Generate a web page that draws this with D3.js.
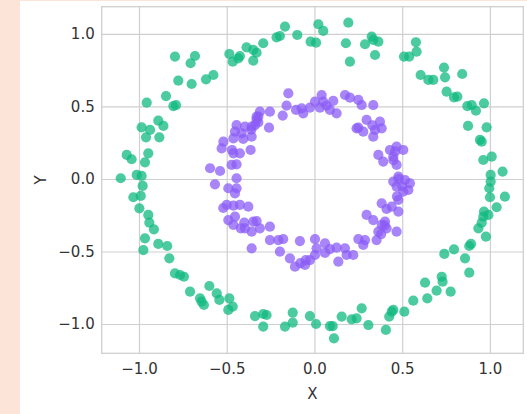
<!DOCTYPE html>
<html>
<head>
<meta charset="utf-8">
<script src="https://cdn.jsdelivr.net/npm/d3@7"></script>
<style>
  html, body { margin: 0; padding: 0; background: #fde4d8; }
  svg { display: block; }
</style>
</head>
<body>
<svg id="chart" width="527" height="414"></svg>
<script>
// Outer ring (class 0, green)
const outerX = [-0.795,-0.681,-0.706,-0.776,-0.700,-0.618,-0.576,-0.956,-0.846,-0.804,-0.789,-0.985,-0.937,-0.890,-0.861,-0.960,-0.884,-1.070,-1.042,-0.947,-0.966,-1.104,-1.013,-0.985,-0.979,-1.032,-0.990,-0.998,-0.947,-0.941,-0.915,-0.966,-0.975,-0.890,-0.839,-0.827,-0.795,-0.766,-0.744,-0.709,-0.652,-0.643,-0.630,-0.599,-0.557,-0.542,-0.485,-0.491,-0.466,-0.339,-0.292,-0.273,-0.292,-0.168,-0.124,-0.124,-0.026,0.009,0.088,0.104,0.111,0.155,0.212,0.240,0.269,0.307,0.407,0.426,0.440,0.449,0.512,0.563,0.630,0.643,0.696,0.725,0.730,0.776,0.740,0.795,0.858,0.882,0.892,0.882,0.934,0.953,0.977,0.962,0.991,0.966,1.038,1.085,1.000,0.996,1.004,1.004,1.072,0.962,1.010,0.943,0.953,0.875,0.981,0.871,0.896,0.920,0.966,0.753,0.795,0.814,0.605,0.649,0.677,0.738,0.744,0.842,0.510,0.540,0.578,0.582,0.193,0.179,0.202,0.288,0.326,0.345,0.364,0.335,0.022,0.050,-0.022,0.009,-0.098,-0.168,-0.197,-0.216,-0.292,-0.330,-0.349,-0.349,-0.387,-0.425,-0.434,-0.466,-0.485];
const outerY = [0.844,0.848,0.798,0.678,0.655,0.687,0.717,0.526,0.572,0.503,0.510,0.356,0.338,0.402,0.366,0.287,0.287,0.166,0.136,0.177,0.115,0.005,0.028,0.021,-0.048,-0.126,-0.117,-0.202,-0.248,-0.301,-0.347,-0.409,-0.490,-0.448,-0.462,-0.547,-0.651,-0.662,-0.674,-0.777,-0.823,-0.846,-0.869,-0.738,-0.789,-0.834,-0.823,-0.903,-0.880,-0.945,-0.931,-0.938,-1.018,-1.018,-0.922,-0.991,-0.945,-1.000,-1.014,-1.014,-1.099,-0.949,-0.968,-0.961,-0.892,-1.007,-1.041,-0.949,-0.915,-0.903,-0.915,-0.839,-0.715,-0.823,-0.770,-0.674,-0.708,-0.777,-0.517,-0.485,-0.547,-0.462,-0.448,-0.646,-0.340,-0.301,-0.398,-0.260,-0.248,-0.225,-0.195,-0.122,-0.126,-0.064,-0.018,0.028,0.051,0.131,0.154,0.269,0.257,0.366,0.356,0.503,0.510,0.471,0.522,0.602,0.563,0.568,0.717,0.683,0.683,0.768,0.701,0.724,0.844,0.844,0.943,0.878,1.078,0.936,0.809,0.929,0.982,0.855,0.947,0.959,1.067,1.021,0.947,0.940,0.993,1.051,0.986,0.977,0.936,0.871,0.816,0.890,0.908,0.848,0.832,0.809,0.862];

// Inner ring (class 1, purple)
const innerX = [-0.149,-0.159,-0.181,-0.105,-0.073,-0.064,-0.026,0.003,0.041,0.050,0.031,0.069,0.107,0.088,0.126,0.174,0.202,0.250,0.269,0.335,-0.311,-0.320,-0.330,-0.339,-0.254,-0.259,-0.444,-0.396,-0.358,-0.453,-0.415,-0.358,-0.462,-0.406,-0.519,-0.529,-0.462,-0.425,-0.364,-0.472,-0.444,-0.595,-0.538,-0.444,-0.567,-0.491,-0.444,-0.453,-0.500,-0.462,-0.425,-0.377,-0.491,-0.453,-0.462,-0.396,-0.349,-0.330,-0.358,-0.311,-0.254,-0.358,-0.254,-0.206,-0.178,-0.197,-0.140,-0.111,-0.083,-0.054,-0.026,0.003,0.003,0.012,0.060,0.088,0.126,0.136,0.174,0.183,0.221,0.250,0.288,0.278,0.297,0.335,0.364,0.354,0.383,0.411,0.468,0.402,0.383,0.411,0.440,0.478,0.478,0.506,0.535,0.544,0.449,0.478,0.468,0.516,0.364,0.392,0.430,0.449,0.468,0.468,0.506,0.250,0.278,0.297,0.345,0.335,0.373,0.383,0.240,
  -0.330,-0.320,-0.360,0.460,0.450,0.480,0.500,0.470,0.400,0.380,-0.400,-0.420,-0.050,-0.080,0.330,-0.470,-0.520,0.060];
const innerY = [0.591,0.506,0.437,0.476,0.487,0.453,0.492,0.533,0.579,0.533,0.492,0.506,0.538,0.476,0.453,0.579,0.561,0.545,0.510,0.510,0.464,0.430,0.407,0.372,0.464,0.354,0.372,0.361,0.361,0.326,0.315,0.292,0.280,0.276,0.257,0.211,0.177,0.177,0.200,0.097,0.101,0.074,0.055,0.005,-0.037,-0.064,-0.064,-0.099,-0.179,-0.184,-0.179,-0.191,-0.283,-0.260,-0.317,-0.340,-0.294,-0.290,-0.363,-0.340,-0.329,-0.478,-0.421,-0.421,-0.414,-0.501,-0.547,-0.605,-0.428,-0.593,-0.559,-0.414,-0.524,-0.478,-0.444,-0.483,-0.474,-0.570,-0.478,-0.524,-0.524,-0.414,-0.421,-0.455,-0.248,-0.283,-0.363,-0.421,-0.317,-0.340,-0.363,-0.294,-0.168,-0.207,-0.191,-0.225,-0.145,-0.087,-0.076,-0.030,-0.018,0.016,-0.053,-0.007,0.166,0.120,0.200,0.154,0.097,0.223,0.200,0.354,0.326,0.407,0.338,0.292,0.395,0.349,0.349,
  0.430,0.390,0.340,0.190,0.130,0.000,-0.050,-0.120,-0.320,-0.380,-0.300,-0.340,-0.560,-0.580,0.370,0.200,-0.200,-0.510];

const tickValues = [-1.0, -0.5, 0.0, 0.5, 1.0];
const tickLabels = ["\u22121.0", "\u22120.5", "0.0", "0.5", "1.0"];
const xLabel = "X";
const yLabel = "Y";

const svg = d3.select("#chart");
const W = 527, H = 414;
const plot = { left: 101.7, right: 523.3, top: 6.7, bottom: 353.3 };

svg.append("rect").attr("x", 0).attr("y", 0).attr("width", W).attr("height", H).attr("fill", "#fde4d8");
svg.append("rect").attr("x", 20).attr("y", 1).attr("width", W - 20).attr("height", H - 1).attr("fill", "#ffffff");

const x = d3.scaleLinear().domain([-1.2125, 1.19]).range([plot.left, plot.right]);
const y = d3.scaleLinear().domain([-1.202, 1.188]).range([plot.bottom, plot.top]);

const gridColor = "#cfcfcf";
const font = "'DejaVu Sans', sans-serif";

const gx = svg.append("g").attr("transform", `translate(0,${plot.bottom})`)
  .call(d3.axisBottom(x).tickValues(tickValues)
    .tickSize(-(plot.bottom - plot.top))
    .tickFormat((d, i) => tickLabels[i]).tickPadding(10));
const gy = svg.append("g").attr("transform", `translate(${plot.left},0)`)
  .call(d3.axisLeft(y).tickValues(tickValues)
    .tickSize(-(plot.right - plot.left))
    .tickFormat((d, i) => tickLabels[i]).tickPadding(7));

[gx, gy].forEach(g => {
  g.select(".domain").remove();
  g.selectAll(".tick line").attr("stroke", gridColor).attr("stroke-width", 1.2);
  g.selectAll(".tick text").attr("fill", "#333333").style("font-family", font).style("font-size", "15px");
});

svg.append("rect")
  .attr("x", plot.left).attr("y", plot.top)
  .attr("width", plot.right - plot.left).attr("height", plot.bottom - plot.top)
  .attr("fill", "none").attr("stroke", gridColor).attr("stroke-width", 1.3);

const outer = outerX.map((v, i) => ({ x: v, y: outerY[i] }));
const inner = innerX.map((v, i) => ({ x: v, y: innerY[i] }));

svg.append("g").selectAll("circle").data(outer).join("circle")
  .attr("cx", d => x(d.x)).attr("cy", d => y(d.y)).attr("r", 5.1)
  .attr("fill", "#10b981").attr("fill-opacity", 0.75);

svg.append("g").selectAll("circle").data(inner).join("circle")
  .attr("cx", d => x(d.x)).attr("cy", d => y(d.y)).attr("r", 5.1)
  .attr("fill", "#8b5cf6").attr("fill-opacity", 0.75);

svg.append("text").attr("x", (plot.left + plot.right) / 2).attr("y", 399)
  .attr("text-anchor", "middle").attr("fill", "#333333")
  .style("font-family", font).style("font-size", "15px").text(xLabel);
svg.append("text").attr("transform", `translate(46,${(plot.top + plot.bottom) / 2}) rotate(-90)`)
  .attr("text-anchor", "middle").attr("fill", "#333333")
  .style("font-family", font).style("font-size", "15px").text(yLabel);
</script>
</body>
</html>
